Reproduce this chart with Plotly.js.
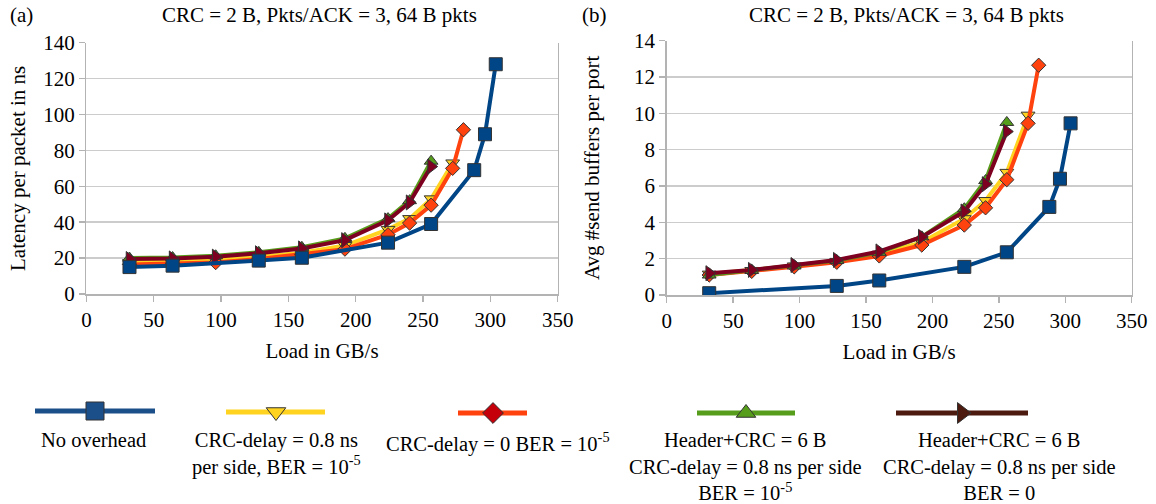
<!DOCTYPE html>
<html>
<head>
<meta charset="utf-8">
<script src="https://cdn.plot.ly/plotly-3.0.1.min.js"></script>
<style>html,body{margin:0;padding:0;background:#fff;}#chart{width:1156px;height:504px;}</style>
</head>
<body>
<div id="chart"></div>
<script>
// ---------- data ----------
const seriesNames = [
  "No overhead",
  "CRC-delay = 0.8 ns<br>per side, BER = 10<sup>-5</sup>",
  "CRC-delay = 0 BER = 10<sup>-5</sup>",
  "Header+CRC = 6 B<br>CRC-delay = 0.8 ns per side<br>BER = 10<sup>-5</sup>",
  "Header+CRC = 6 B<br>CRC-delay = 0.8 ns per side<br>BER = 0"
];
const loadAll = [32, 64, 96, 128, 160, 192, 224, 240, 256, 272, 280];

// (a) latency per packet in ns
const loadNoOverheadA = [32, 64, 128, 160, 224, 256, 288, 296, 304];
const latNoOverhead   = [15, 15.8, 18.6, 20.2, 28.6, 39, 69, 89, 128];
const latCrcDelay     = [17.5, 18, 19, 20.8, 23, 27, 36, 42, 53, 73];
const latCrcZero      = [16.5, 17, 17.5, 19.5, 22, 25, 33, 39.5, 49.5, 70, 91.5];
const latHdrBer       = [20, 20.3, 21.3, 23.2, 26, 31, 42, 52, 74];
const latHdrNoBer     = [19.5, 19.8, 20.8, 22.7, 25.4, 30, 41, 51, 71];

// (b) avg #send buffers per port
const loadNoOverheadB = [32, 128, 160, 224, 256, 288, 296, 304];
const bufNoOverhead   = [0.1, 0.5, 0.8, 1.55, 2.35, 4.85, 6.4, 9.45];
const bufCrcDelay     = [1.15, 1.35, 1.6, 1.85, 2.25, 2.9, 4.2, 5.2, 6.75, 9.9];
const bufCrcZero      = [1.1, 1.3, 1.55, 1.8, 2.15, 2.75, 3.85, 4.8, 6.35, 9.45, 12.65];
const bufHdrBer       = [1.1, 1.35, 1.6, 1.9, 2.35, 3.2, 4.75, 6.3, 9.5];
const bufHdrNoBer     = [1.2, 1.38, 1.65, 1.93, 2.4, 3.2, 4.6, 6.1, 9.0];

// ---------- style ----------
const colors  = ["#004586", "#ffd320", "#ff420e", "#579d1c", "#7e0021"];
const symbols = ["square", "triangle-down", "diamond", "triangle-up", "triangle-right"];
const msizes  = [13, 12, 11, 12, 13];
const legLineCol = ["#1b4f8a", "#ffd320", "#ff420e", "#579d1c", "#4c1a0e"];
const legMarkCol = ["#1b4f8a", "#ffd320", "#c5000b", "#579d1c", "#4c1a0e"];
const FONT = "Liberation Serif";
const mkFont = (s) => ({family: FONT, size: s || 21, color: "#000000"});

function series(i, xs, ys, xa, ya) {
  return {
    x: xs.slice(0, ys.length), y: ys, xaxis: xa, yaxis: ya,
    mode: "lines+markers", name: seriesNames[i], showlegend: false,
    line: {color: colors[i], width: 4},
    marker: {symbol: symbols[i], size: msizes[i], color: colors[i],
             line: {color: "#333333", width: 1}}
  };
}

// draw order: yellow, red, green, maroon, blue on top
const order = [1, 2, 3, 4, 0];
const dataA = {0: [loadNoOverheadA, latNoOverhead], 1: [loadAll, latCrcDelay], 2: [loadAll, latCrcZero], 3: [loadAll, latHdrBer], 4: [loadAll, latHdrNoBer]};
const dataB = {0: [loadNoOverheadB, bufNoOverhead], 1: [loadAll, bufCrcDelay], 2: [loadAll, bufCrcZero], 3: [loadAll, bufHdrBer], 4: [loadAll, bufHdrNoBer]};

const traces = [];
order.forEach(i => traces.push(series(i, dataA[i][0], dataA[i][1], "x", "y")));
order.forEach(i => traces.push(series(i, dataB[i][0], dataB[i][1], "x2", "y2")));

// legend samples on a hidden pixel-like axis in the bottom band (x3: 0..1156, y3: 378..504 top-down)
const legLines = [[35, 155, 411], [226, 325, 412], [458, 527, 413], [697, 795, 413], [896, 1028, 413]];
const legMark  = [95, 276, 493, 746, 962];
const legText  = [[93, 441], [276, 441], [498, 441], [745, 441], [999, 441]];
for (let i = 0; i < 5; i++) {
  traces.push({x: [legLines[i][0], legLines[i][1]], y: [legLines[i][2], legLines[i][2]],
    xaxis: "x3", yaxis: "y3", mode: "lines", showlegend: false, hoverinfo: "skip",
    line: {color: legLineCol[i], width: 5}});
  traces.push({x: [legMark[i]], y: [legLines[i][2]], xaxis: "x3", yaxis: "y3",
    mode: "markers", showlegend: false, hoverinfo: "skip",
    marker: {symbol: symbols[i], size: msizes[i] + 5, color: legMarkCol[i],
             line: {color: "#333333", width: 1}}});
}

const W = 1156, H = 504;
const px = v => v / W, py = v => 1 - v / H;
const LEG_TOP = 378;

function axBase() {
  return {
    showgrid: false, zeroline: false, showline: true, linecolor: "#b3b3b3", linewidth: 1.5,
    ticks: "outside", ticklen: 6, tickcolor: "#b3b3b3", tickwidth: 1.5,
    tickfont: mkFont()
  };
}
function yBase() {
  return Object.assign(axBase(), {showgrid: true, gridcolor: "#cccccc", gridwidth: 1.5, mirror: true});
}

const annotations = [
  {text: "(a)", x: px(8), y: py(15), xanchor: "left"},
  {text: "(b)", x: px(580), y: py(15), xanchor: "left"},
  {text: "CRC = 2 B, Pkts/ACK = 3, 64 B pkts", x: px(319), y: py(15)},
  {text: "CRC = 2 B, Pkts/ACK = 3, 64 B pkts", x: px(906), y: py(15)}
];
for (let i = 0; i < 5; i++) {
  annotations.push({text: seriesNames[i], x: px(legText[i][0]), y: py(legText[i][1] - 14),
    yanchor: "top", align: "center", fs: 20.5});
}
annotations.forEach(a => {
  a.xref = "paper"; a.yref = "paper"; a.showarrow = false;
  if (!a.xanchor) a.xanchor = "center";
  if (!a.yanchor) a.yanchor = "middle";
  a.font = mkFont(a.fs);
  delete a.fs;
});

const layout = {
  width: W, height: H, margin: {l: 0, r: 0, t: 0, b: 0},
  paper_bgcolor: "#ffffff", plot_bgcolor: "rgba(0,0,0,0)", showlegend: false,
  font: mkFont(),
  xaxis: Object.assign(axBase(), {domain: [px(86.4), px(557.7)], range: [0, 350], dtick: 50, anchor: "y",
    title: {text: "Load in GB/s", font: mkFont(), standoff: 12}}),
  yaxis: Object.assign(yBase(), {domain: [py(294), py(42.7)], range: [0, 140], dtick: 20, anchor: "x",
    title: {text: "Latency per packet in ns", font: mkFont(), standoff: 12}}),
  xaxis2: Object.assign(axBase(), {domain: [px(666.7), px(1131.7)], range: [0, 350], dtick: 50, anchor: "y2",
    title: {text: "Load in GB/s", font: mkFont(), standoff: 12}}),
  yaxis2: Object.assign(yBase(), {domain: [py(295), py(40.7)], range: [0, 14], dtick: 2, anchor: "x2",
    title: {text: "Avg #send buffers per port", font: mkFont(), standoff: 28}}),
  xaxis3: {domain: [0, 1], range: [0, W], visible: false, fixedrange: true, anchor: "y3"},
  yaxis3: {domain: [0, py(LEG_TOP)], range: [H, LEG_TOP], visible: false, fixedrange: true, anchor: "x3"},
  annotations: annotations
};

Plotly.newPlot("chart", traces, layout, {displayModeBar: false, staticPlot: true});
</script>
</body>
</html>
